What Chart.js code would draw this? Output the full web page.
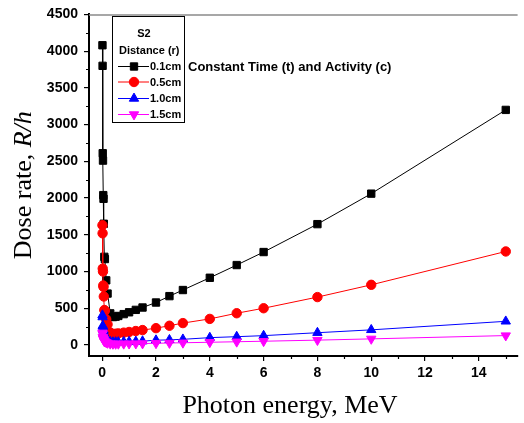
<!DOCTYPE html>
<html>
<head>
<meta charset="utf-8">
<script src="https://cdn.jsdelivr.net/npm/chart.js@4"></script>
<style>
  body { margin: 0; background: #fff; }
</style>
</head>
<body>
<canvas id="grafico" width="524" height="423"></canvas>
<script>
// energias (MeV)
const energia = [0.01, 0.015, 0.02, 0.03, 0.04, 0.05, 0.06, 0.08, 0.1, 0.15, 0.2, 0.3, 0.4, 0.5,
    0.6, 0.8, 1.0, 1.25, 1.5, 2, 2.5, 3, 4, 5, 6, 8, 10, 15];

// taxa de dose (R/h) para cada distancia
const dose01 = [4080, 3800, 2610, 2510, 2040, 1990, 1650, 1200, 1170, 880, 700, 430, 380, 385,
    395, 420, 445, 478, 510, 578, 665, 748, 915, 1088, 1265, 1645, 2060, 3200];
const dose05 = [1630, 1520, 1040, 1000, 810, 790, 660, 476, 465, 350, 280, 170, 150, 153,
    158, 168, 177, 190, 203, 229, 262, 298, 355, 432, 500, 652, 819, 1273];
const dose10 = [405, 380, 261, 250, 204, 198, 165, 120, 117, 88, 70, 43, 38, 39,
    40, 42, 45, 48, 52, 65, 70, 77, 100, 113, 127, 167, 206, 322];
const dose15 = [165, 152, 104, 100, 82, 80, 66, 48, 47, 35, 28, 17, 15, 15,
    16, 17, 18, 19, 20, 23, 27, 30, 37, 44, 51, 66, 83, 128];

const xTicks = [0, 2, 4, 6, 8, 10, 12, 14];
const yTicks = [0, 500, 1000, 1500, 2000, 2500, 3000, 3500, 4000, 4500];
const xMinor = [1, 3, 5, 7, 9, 11, 13, 15];
const yMinor = [250, 750, 1250, 1750, 2250, 2750, 3250, 3750, 4250];

function pontos(ys) {
    return energia.map((e, i) => ({ x: e, y: ys[i] }));
}

const series = [
    { label: '0.1cm', data: dose01, cor: '#000000', estilo: 'rect', raio: 5.2, rot: 0 },
    { label: '0.5cm', data: dose05, cor: '#ff0000', estilo: 'circle', raio: 4.7, rot: 0 },
    { label: '1.0cm', data: dose10, cor: '#0000ff', estilo: 'triangle', raio: 5.4, rot: 0 },
    { label: '1.5cm', data: dose15, cor: '#ff00ff', estilo: 'triangle', raio: 5.4, rot: 180 }
];

const fonteTick = { family: 'Liberation Sans', size: 14, weight: 'bold' };

// legenda, titulos e ticks menores desenhados a mao
const extras = {
    id: 'extras',
    afterDraw(chart) {
        const c = chart.ctx;
        const area = chart.chartArea;
        const sx = chart.scales.x, sy = chart.scales.y;
        c.save();

        // linha de cima (moldura)
        c.strokeStyle = '#8a8a8a';
        c.lineWidth = 1.5;
        c.beginPath();
        c.moveTo(area.left, area.top + 0.5);
        c.lineTo(area.right, area.top + 0.5);
        c.stroke();

        // ticks menores
        c.strokeStyle = '#000';
        c.lineWidth = 1.2;
        c.beginPath();
        xMinor.forEach(v => {
            const px = Math.round(sx.getPixelForValue(v)) + 0.5;
            c.moveTo(px, area.bottom);
            c.lineTo(px, area.bottom + 3);
        });
        yMinor.forEach(v => {
            const py = Math.round(sy.getPixelForValue(v)) + 0.5;
            c.moveTo(area.left, py);
            c.lineTo(area.left - 3, py);
        });
        c.stroke();

        // caixa da legenda
        c.fillStyle = '#fff';
        c.fillRect(112, 16, 72, 106);
        c.strokeStyle = '#000';
        c.lineWidth = 1;
        c.strokeRect(112.5, 16.5, 72, 106);

        c.fillStyle = '#000';
        c.font = 'bold 11px "Liberation Sans"';
        c.textBaseline = 'middle';
        c.textAlign = 'center';
        c.fillText('S2', 144, 34);
        c.textAlign = 'left';
        c.fillText('Distance (r)', 119, 51);

        const linhasY = [66.5, 82, 98.5, 114.5];
        series.forEach((s, i) => {
            const y = linhasY[i];
            c.strokeStyle = s.cor;
            c.lineWidth = 1;
            c.beginPath();
            c.moveTo(118, y);
            c.lineTo(149, y);
            c.stroke();
            c.fillStyle = s.cor;
            Chart.helpers.drawPoint(c, { pointStyle: s.estilo, radius: s.raio, rotation: s.rot, borderWidth: 1 }, 134, y);
            c.fillStyle = '#000';
            c.font = 'bold 11px "Liberation Sans"';
            c.fillText(s.label, 150, y + 0.5);
        });

        c.font = 'bold 13px "Liberation Sans"';
        c.fillText('Constant Time (t) and Activity (c)', 188, 67);

        // titulo eixo x
        c.font = '26px "Liberation Serif"';
        c.textAlign = 'center';
        c.textBaseline = 'alphabetic';
        c.fillText('Photon energy, MeV', 290, 413);

        // titulo eixo y (com R/h em italico)
        c.translate(31, (area.top + area.bottom) / 2);
        c.rotate(-Math.PI / 2);
        c.textAlign = 'left';
        c.font = '26px "Liberation Serif"';
        const parte1 = 'Dose rate, ';
        const w1 = c.measureText(parte1).width;
        c.font = 'italic 26px "Liberation Serif"';
        const w2 = c.measureText('R/h').width;
        const inicio = -(w1 + w2) / 2;
        c.font = '26px "Liberation Serif"';
        c.fillText(parte1, inicio, 0);
        c.font = 'italic 26px "Liberation Serif"';
        c.fillText('R/h', inicio + w1, 0);

        c.restore();
    }
};

new Chart(document.getElementById('grafico'), {
    type: 'line',
    data: {
        datasets: series.map((s, i) => ({
            label: s.label,
            data: pontos(s.data),
            borderColor: s.cor,
            backgroundColor: s.cor,
            borderWidth: 1,
            pointStyle: s.estilo,
            pointRadius: s.raio,
            pointRotation: s.rot,
            pointBorderWidth: 1,
            pointBackgroundColor: s.cor,
            pointBorderColor: s.cor,
            tension: 0,
            order: 4 - i
        }))
    },
    options: {
        responsive: false,
        animation: false,
        layout: { padding: { top: 14, right: 0, left: 0, bottom: 0 } },
        plugins: {
            legend: { display: false },
            tooltip: { enabled: false }
        },
        scales: {
            x: {
                type: 'linear',
                min: -0.49,
                max: 15.44,
                afterBuildTicks: (s) => { s.ticks = xTicks.map(v => ({ value: v })); },
                afterFit: (s) => { s.height = 67; },
                ticks: { color: '#000', font: fonteTick, padding: 4, maxRotation: 0, callback: (v) => String(v) },
                grid: { drawOnChartArea: false, color: '#000', tickLength: 5, lineWidth: 1.2 },
                border: { color: '#000', width: 2 }
            },
            y: {
                min: -150,
                max: 4500,
                afterBuildTicks: (s) => { s.ticks = yTicks.map(v => ({ value: v })); },
                afterFit: (s) => { s.width = 89; },
                ticks: { color: '#000', font: fonteTick, padding: 6, callback: (v) => String(v) },
                grid: { drawOnChartArea: false, color: '#000', tickLength: 5, lineWidth: 1.2 },
                border: { color: '#000', width: 2 }
            }
        }
    },
    plugins: [extras]
});
</script>
</body>
</html>
